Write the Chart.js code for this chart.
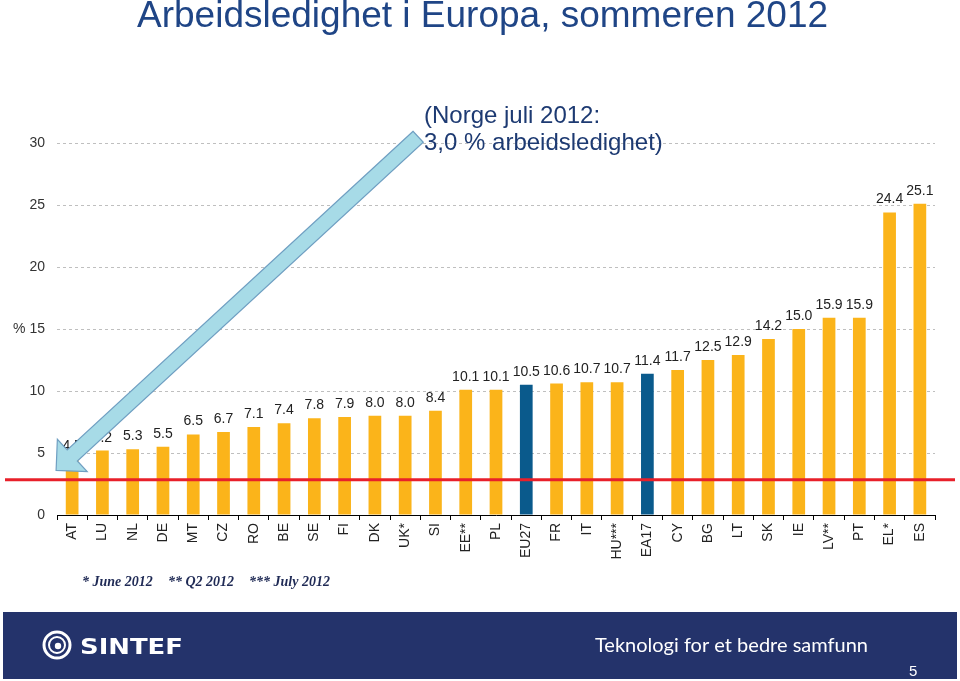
<!DOCTYPE html>
<html><head><meta charset="utf-8">
<script src="https://cdn.jsdelivr.net/npm/chart.js@4/dist/chart.umd.min.js"></script>
<style>html,body{margin:0;padding:0;background:#fff;}#wrap{width:960px;height:681px;}</style>
</head><body><div id="wrap"><canvas id="c" width="960" height="681"></canvas></div>
<script>
// ---- data ----
const categories = ['AT','LU','NL','DE','MT','CZ','RO','BE','SE','FI','DK','UK*','SI','EE**','PL','EU27','FR','IT','HU***','EA17','CY','BG','LT','SK','IE','LV**','PT','EL*','ES'];
const unemployment = [4.5,5.2,5.3,5.5,6.5,6.7,7.1,7.4,7.8,7.9,8.0,8.0,8.4,10.1,10.1,10.5,10.6,10.7,10.7,11.4,11.7,12.5,12.9,14.2,15.0,15.9,15.9,24.4,25.1];
const aggregates = ['EU27','EA17'];
const yTicks = [0,5,10,15,20,25,30];
const unitLabel = '%';
const norwayRate = 3.0;
const titleText = 'Arbeidsledighet i Europa, sommeren 2012';
const noteLines = ['(Norge juli 2012:', '3,0 % arbeidsledighet)'];
const footnotes = ['* June 2012', '** Q2 2012', '*** July 2012'];
const footerSlogan = 'Teknologi for et bedre samfunn';
const footerBrand = 'SINTEF';
const pageNumber = '5';
// arrow annotation anchors, in data units (category index, value)
const arrowFrom = {index: 11.43, value: 30.5};
const arrowTo = {index: -0.53, value: 3.6};

// ---- styles ----
const ORANGE = '#FBB41A', BLUE = '#0A5A8C', NAVY = '#1F4586';
const SANS = '"Liberation Sans", Arial, sans-serif';

const barColors = categories.map(c => aggregates.includes(c) ? BLUE : ORANGE);

function drawArrow(ctx, x1, y1, x2, y2, sh, hl, hh) {
  const dx = x2 - x1, dy = y2 - y1, L = Math.hypot(dx, dy);
  const ux = dx / L, uy = dy / L, px = -uy, py = ux;
  const bx = x2 - ux * hl, by = y2 - uy * hl;
  const pts = [
    [x1 + px * sh, y1 + py * sh], [bx + px * sh, by + py * sh], [bx + px * hh, by + py * hh],
    [x2, y2],
    [bx - px * hh, by - py * hh], [bx - px * sh, by - py * sh], [x1 - px * sh, y1 - py * sh]
  ];
  ctx.beginPath();
  ctx.moveTo(pts[0][0], pts[0][1]);
  for (let i = 1; i < pts.length; i++) ctx.lineTo(pts[i][0], pts[i][1]);
  ctx.closePath();
  ctx.fillStyle = '#A7DBE7';
  ctx.fill();
  ctx.strokeStyle = '#6F9FC2';
  ctx.lineWidth = 1.2;
  ctx.stroke();
}

function fitText(ctx, text, x, y, width) {
  const w = ctx.measureText(text).width;
  ctx.save();
  ctx.translate(x, y);
  ctx.scale(width / w, 1);
  ctx.fillText(text, 0, 0);
  ctx.restore();
}

const decorPlugin = {
  id: 'decor',
  beforeDraw(chart) {
    const ctx = chart.ctx;
    ctx.save();
    ctx.fillStyle = '#fff';
    ctx.fillRect(0, 0, chart.width, chart.height);
    ctx.restore();
  },
  afterDraw(chart) {
    const ctx = chart.ctx, xs = chart.scales.x, ys = chart.scales.y;
    ctx.save();
    // Norway reference line
    const ry = ys.getPixelForValue(norwayRate) + 2;
    ctx.strokeStyle = '#E8202A';
    ctx.lineWidth = 3;
    ctx.beginPath(); ctx.moveTo(5, ry); ctx.lineTo(955, ry); ctx.stroke();

    // value labels
    const meta = chart.getDatasetMeta(0);
    ctx.fillStyle = '#222';
    ctx.font = '14px ' + SANS;
    ctx.textAlign = 'center';
    ctx.textBaseline = 'alphabetic';
    meta.data.forEach((bar, i) => {
      ctx.fillText(unemployment[i].toFixed(1), bar.x, bar.y - 9);
    });

    // arrow
    drawArrow(ctx,
      xs.getPixelForValue(arrowFrom.index), ys.getPixelForValue(arrowFrom.value),
      xs.getPixelForValue(arrowTo.index), ys.getPixelForValue(arrowTo.value),
      7.5, 22, 22);

    // title
    ctx.textAlign = 'left';
    ctx.fillStyle = NAVY;
    ctx.font = '37px ' + SANS;
    ctx.fillText(titleText, 137, 27);

    // note
    ctx.fillStyle = '#1D3A72';
    ctx.font = '24px ' + SANS;
    ctx.fillText(noteLines[0], 424, 123);
    ctx.fillText(noteLines[1], 424, 150);

    // footnotes
    ctx.fillStyle = '#1F2A55';
    ctx.font = 'italic bold 14px "Liberation Serif", "Times New Roman", serif';
    const fx = [82, 168, 249];
    footnotes.forEach((t, i) => ctx.fillText(t, fx[i], 586));

    // footer band
    ctx.fillStyle = '#24336B';
    ctx.fillRect(3, 612, 954, 67);
    ctx.fillStyle = '#fff';
    ctx.font = '20px Lato, "Open Sans", sans-serif';
    fitText(ctx, footerSlogan, 595, 652, 273);
    ctx.font = '15px ' + SANS;
    ctx.fillText(pageNumber, 909, 676);
    ctx.font = 'bold 22px "DejaVu Sans", sans-serif';
    fitText(ctx, footerBrand, 80, 654, 103);
    // logo ring
    ctx.strokeStyle = '#fff';
    ctx.lineWidth = 3;
    ctx.beginPath(); ctx.arc(57, 645, 13, 0, Math.PI * 2); ctx.stroke();
    ctx.lineWidth = 2;
    ctx.beginPath(); ctx.arc(57, 645, 8, 0, Math.PI * 2); ctx.stroke();
    ctx.beginPath(); ctx.arc(58, 646, 3.2, 0, Math.PI * 2); ctx.fill();
    ctx.restore();
  }
};

new Chart(document.getElementById('c'), {
  type: 'bar',
  data: {
    labels: categories,
    datasets: [{ data: unemployment, backgroundColor: barColors, borderWidth: 0, barPercentage: 0.42, categoryPercentage: 1 }]
  },
  options: {
    responsive: false,
    animation: false,
    layout: { padding: { top: 143, right: 25, left: 0, bottom: 0 } },
    plugins: { legend: { display: false }, tooltip: { enabled: false }, title: { display: false } },
    scales: {
      x: {
        grid: { display: true, drawOnChartArea: false, drawTicks: true, tickLength: 5, color: '#000', offset: true, lineWidth: 1 },
        border: { display: true, color: '#000', width: 1 },
        ticks: { autoSkip: false, minRotation: 90, maxRotation: 90, padding: 3, color: '#222', font: { family: SANS, size: 14 } },
        afterFit: s => { s.height = 166; }
      },
      y: {
        min: 0, max: 30,
        afterBuildTicks: s => { s.ticks = yTicks.map(v => ({ value: v })); },
        grid: { drawTicks: false, color: c => (c.tick && c.tick.value === 0) ? 'rgba(0,0,0,0)' : '#BFBFBF' },
        border: { display: false, dash: [3, 3] },
        ticks: { padding: 12, color: '#333', font: { family: SANS, size: 14 },
                 callback: v => v === 15 ? unitLabel + ' ' + v : String(v) },
        afterFit: s => { s.width = 57; }
      }
    }
  },
  plugins: [decorPlugin]
});
</script>
</body></html>
